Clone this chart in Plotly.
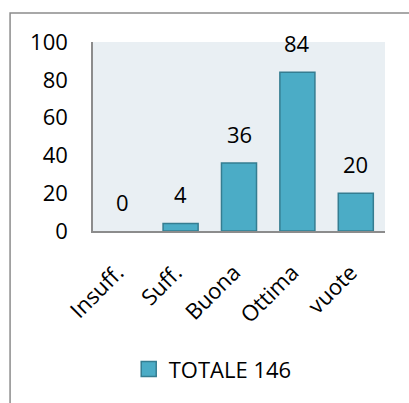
import plotly.graph_objects as go

categories = ["Insuff.", "Suff.", "Buona", "Ottima", "vuote"]
values = [0, 4, 36, 84, 20]
series_name = "TOTALE 146"
y_ticks = [0, 20, 40, 60, 80, 100]

FONT = "Open Sans, Carlito, Calibri, sans-serif"
FONT_SIZE = 22
BAR_FILL = "#4BACC6"
BAR_EDGE = "#357D91"
AXIS_GRAY = "#8C8C8C"

# empty categories get no outline so nothing is drawn on the baseline
edge_widths = [0 if v == 0 else 1.5 for v in values]

fig = go.Figure()
fig.add_trace(go.Bar(
    x=categories,
    y=values,
    name=series_name,
    marker=dict(color=BAR_FILL, line=dict(color=BAR_EDGE, width=edge_widths)),
    showlegend=False,
))

# legend entry with a larger square swatch
fig.add_trace(go.Scatter(
    x=[None], y=[None], mode="markers", name=series_name,
    marker=dict(symbol="square", size=15, color=BAR_FILL,
                line=dict(color=BAR_EDGE, width=1.5)),
    showlegend=True,
))

# value labels floating above each bar
for cat, val in zip(categories, values):
    fig.add_annotation(
        x=cat, y=val, text=str(val), showarrow=False,
        yanchor="bottom", yshift=12,
        font=dict(family=FONT, size=FONT_SIZE, color="#000000"),
    )

# outer chart frame
fig.add_shape(
    type="rect", xref="paper", yref="paper",
    x0=-0.284, x1=1.3, y0=-1.5, y1=1.153,
    line=dict(color="#8C8C8C", width=1.5), fillcolor="rgba(0,0,0,0)",
    layer="below",
)

fig.update_layout(
    width=409, height=403,
    margin=dict(l=93, r=24, t=42, b=172),
    paper_bgcolor="white",
    plot_bgcolor="#E9EFF3",
    bargap=0.4,
    font=dict(family=FONT, size=FONT_SIZE, color="#000000"),
    showlegend=True,
    legend=dict(
        orientation="h", x=0.41, xanchor="center", y=-0.62, yanchor="top",
        font=dict(family=FONT, size=FONT_SIZE),
        itemwidth=30,
    ),
)
fig.update_xaxes(
    type="category",
    range=[-0.5, 4.5],
    tickangle=-45,
    showline=True, linecolor=AXIS_GRAY, linewidth=2,
    showgrid=False, ticks="",
    ticklabelstandoff=18, ticklabelshift=-5,
    tickfont=dict(family=FONT, size=FONT_SIZE),
)
fig.update_yaxes(
    range=[0, 100],
    tickvals=y_ticks,
    showline=True, linecolor=AXIS_GRAY, linewidth=1.5,
    showgrid=False, zeroline=False, ticks="",
    ticklabelstandoff=19,
    tickfont=dict(family=FONT, size=FONT_SIZE),
)

fig.write_html("out.html")
